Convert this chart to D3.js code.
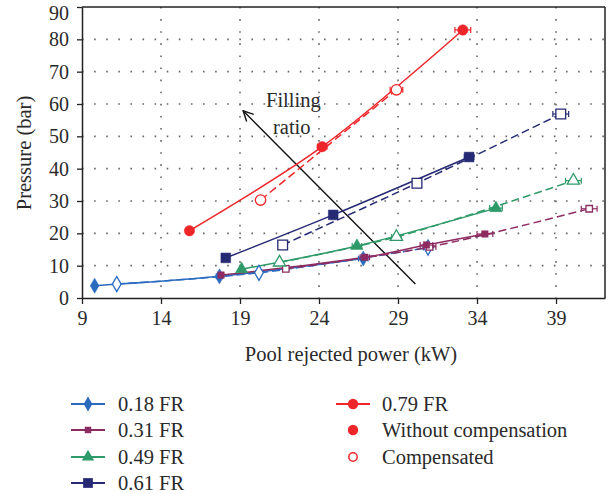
<!DOCTYPE html>
<html>
<head>
<meta charset="utf-8">
<script src="https://cdn.jsdelivr.net/npm/d3@7"></script>
<style>
  body { margin: 0; background: #fff; }
  svg text { font-family: "Liberation Serif", "DejaVu Serif", serif; fill: #2a2a2a; }
</style>
</head>
<body>
<div id="chart"></div>
<script>
// Tick labels
const xTicks = [9, 14, 19, 24, 29, 34, 39];
const yTicks = [0, 10, 20, 30, 40, 50, 60, 70, 80, 90];

// [power kW, pressure bar]; solid = without compensation, open = compensated
const fr018Measured = [[9.8, 3.8], [17.7, 6.7], [26.8, 12.2]];
const fr018Compensated = [[11.2, 4.3], [20.2, 7.8], [30.9, 15.6]];
const fr031Measured = [[17.8, 7.1], [26.9, 12.6], [30.8, 16.4], [34.5, 19.8]];
const fr031Compensated = [[21.9, 9.0], [31.0, 15.8], [41.1, 27.6]];
const fr049Measured = [[19.1, 8.9], [26.4, 16.1], [35.2, 27.8]];
const fr049Compensated = [[21.5, 11.0], [28.9, 18.9], [40.1, 36.3]];
const fr061Measured = [[18.1, 12.4], [24.9, 25.7], [33.5, 43.6]];
const fr061Compensated = [[21.7, 16.4], [30.2, 35.5], [39.3, 56.9]];
const fr079Measured = [[15.8, 20.8], [24.2, 46.8], [33.1, 82.9]];
const fr079Compensated = [[20.3, 30.3], [28.9, 64.4]];

// horizontal error (kW) per point
const fr018MeasuredErr = [0, 0.2, 0.3];
const fr018CompensatedErr = [0, 0, 0.3];
const fr031MeasuredErr = [0, 0.3, 0.4, 0.5];
const fr031CompensatedErr = [0, 0.4, 0.5];
const fr049MeasuredErr = [0, 0.3, 0.4];
const fr049CompensatedErr = [0, 0.3, 0.5];
const fr061MeasuredErr = [0, 0, 0.3];
const fr061CompensatedErr = [0, 0, 0.5];
const fr079MeasuredErr = [0, 0.3, 0.5];
const fr079CompensatedErr = [0, 0.4];

const seriesNames = ['0.18 FR', '0.31 FR', '0.49 FR', '0.61 FR', '0.79 FR'];

const series = [
  { name: seriesNames[0], color: '#2b6bbf', symbol: d3.symbolDiamond, size: 66,
    measured: fr018Measured, comp: fr018Compensated, mErr: fr018MeasuredErr, cErr: fr018CompensatedErr },
  { name: seriesNames[1], color: '#8e2b60', symbol: d3.symbolSquare, size: 42,
    measured: fr031Measured, comp: fr031Compensated, mErr: fr031MeasuredErr, cErr: fr031CompensatedErr },
  { name: seriesNames[2], color: '#2f9a69', symbol: d3.symbolTriangle, size: 66,
    measured: fr049Measured, comp: fr049Compensated, mErr: fr049MeasuredErr, cErr: fr049CompensatedErr },
  { name: seriesNames[3], color: '#252a73', symbol: d3.symbolSquare, size: 95,
    measured: fr061Measured, comp: fr061Compensated, mErr: fr061MeasuredErr, cErr: fr061CompensatedErr },
  { name: seriesNames[4], color: '#ee2529', symbol: d3.symbolCircle, size: 85,
    measured: fr079Measured, comp: fr079Compensated, mErr: fr079MeasuredErr, cErr: fr079CompensatedErr },
];

const W = 611, H = 494;
const margin = { top: 7, right: 6, bottom: 196, left: 82 };
const width = W - margin.left - margin.right;
const height = H - margin.top - margin.bottom;
const fs = '20.5px';

const svg = d3.select('#chart').append('svg')
  .attr('width', W)
  .attr('height', H);

const g = svg.append('g')
  .attr('transform', `translate(${margin.left},${margin.top})`);

const x = d3.scaleLinear().domain([9, 42.1]).range([0, width]);
const y = d3.scaleLinear().domain([0, 90]).range([height, 0]);

// dotted grid
g.append('g')
  .selectAll('line')
  .data(xTicks.slice(1))
  .enter().append('line')
  .attr('x1', d => x(d)).attr('x2', d => x(d))
  .attr('y1', 0).attr('y2', height)
  .attr('stroke', '#666').attr('stroke-width', 1.6)
  .attr('stroke-dasharray', '1.6,10.5');

g.append('g')
  .selectAll('line')
  .data(yTicks.slice(1, -1))
  .enter().append('line')
  .attr('x1', 0).attr('x2', width)
  .attr('y1', d => y(d)).attr('y2', d => y(d))
  .attr('stroke', '#666').attr('stroke-width', 1.6)
  .attr('stroke-dasharray', '1.6,10.5');

// axes
const xAxis = g.append('g')
  .attr('transform', `translate(0,${height})`)
  .call(d3.axisBottom(x).tickValues(xTicks).tickSize(6).tickPadding(7).tickSizeOuter(0));
const yAxis = g.append('g')
  .call(d3.axisLeft(y).tickValues(yTicks).tickSize(5).tickPadding(8).tickSizeOuter(0));

[xAxis, yAxis].forEach(a => {
  a.select('.domain').attr('stroke', '#222').attr('stroke-width', 1.5);
  a.selectAll('.tick line').attr('stroke', '#222').attr('stroke-width', 1.3);
  a.selectAll('.tick text')
    .attr('font-size', '20px')
    .attr('font-family', '"Liberation Serif", serif')
    .attr('fill', '#2a2a2a');
});
// keep the top label inside the picture
yAxis.selectAll('.tick text').filter(d => d === 90).attr('dy', '0.62em');

// frame top/right
g.append('line').attr('x1', 0).attr('x2', width).attr('y1', 0).attr('y2', 0)
  .attr('stroke', '#222').attr('stroke-width', 1.5);
g.append('line').attr('x1', width).attr('x2', width).attr('y1', 0).attr('y2', height)
  .attr('stroke', '#222').attr('stroke-width', 1.5);

// axis titles
svg.append('text')
  .attr('x', 351).attr('y', 361)
  .attr('text-anchor', 'middle')
  .attr('font-size', fs)
  .text('Pool rejected power (kW)');

svg.append('text')
  .attr('transform', 'translate(31,153) rotate(-90)')
  .attr('text-anchor', 'middle')
  .attr('font-size', fs)
  .text('Pressure (bar)');

const line = d3.line()
  .x(d => x(d[0]))
  .y(d => y(d[1]))
  .curve(d3.curveCatmullRom.alpha(0.5));

// arrow "Filling ratio"
const arrowStart = [30.1, 4.3];
const arrowEnd = [19.2, 57.9];
svg.append('defs').append('marker')
  .attr('id', 'arrow')
  .attr('viewBox', '0 0 12 12')
  .attr('refX', 11).attr('refY', 6)
  .attr('markerWidth', 12).attr('markerHeight', 12)
  .attr('markerUnits', 'userSpaceOnUse')
  .attr('orient', 'auto')
  .append('path')
  .attr('d', 'M1,1 L11,6 L1,11')
  .attr('fill', 'none')
  .attr('stroke', '#111')
  .attr('stroke-width', 1.4);

g.append('line')
  .attr('x1', x(arrowStart[0])).attr('y1', y(arrowStart[1]))
  .attr('x2', x(arrowEnd[0])).attr('y2', y(arrowEnd[1]))
  .attr('stroke', '#111').attr('stroke-width', 1.4)
  .attr('marker-end', 'url(#arrow)');

svg.append('text').attr('x', 266).attr('y', 107).attr('font-size', fs).text('Filling');
svg.append('text').attr('x', 273).attr('y', 134).attr('font-size', fs).text('ratio');

// series lines
series.forEach(s => {
  g.append('path')
    .datum(s.comp)
    .attr('d', line)
    .attr('fill', 'none')
    .attr('stroke', s.color)
    .attr('stroke-width', 1.5)
    .attr('stroke-dasharray', '8,4');
  g.append('path')
    .datum(s.measured)
    .attr('d', line)
    .attr('fill', 'none')
    .attr('stroke', s.color)
    .attr('stroke-width', 1.5);
});

// error bars + markers
function drawPoints(s, pts, errs, open) {
  const grp = g.append('g');
  pts.forEach((p, i) => {
    const e = errs[i];
    if (e > 0) {
      const cy = y(p[1]);
      grp.append('line')
        .attr('x1', x(p[0] - e)).attr('x2', x(p[0] + e))
        .attr('y1', cy).attr('y2', cy)
        .attr('stroke', s.color).attr('stroke-width', 1.2);
      [p[0] - e, p[0] + e].forEach(v => {
        grp.append('line')
          .attr('x1', x(v)).attr('x2', x(v))
          .attr('y1', cy - 3).attr('y2', cy + 3)
          .attr('stroke', s.color).attr('stroke-width', 1.2);
      });
    }
  });
  grp.selectAll('path.m')
    .data(pts)
    .enter().append('path')
    .attr('class', 'm')
    .attr('transform', d => `translate(${x(d[0])},${y(d[1])})`)
    .attr('d', d3.symbol().type(s.symbol).size(s.size))
    .attr('fill', open ? '#fff' : s.color)
    .attr('stroke', s.color)
    .attr('stroke-width', open ? 1.3 : 0.5);
}

series.forEach(s => {
  drawPoints(s, s.comp, s.cErr, true);
  drawPoints(s, s.measured, s.mErr, false);
});

// legend
const legend = svg.append('g');
const rowY = [404, 430, 457, 483];
series.slice(0, 4).forEach((s, i) => {
  const row = legend.append('g').attr('transform', `translate(0,${rowY[i]})`);
  row.append('line').attr('x1', 71).attr('x2', 105).attr('y1', 0).attr('y2', 0)
    .attr('stroke', s.color).attr('stroke-width', 1.8);
  row.append('path')
    .attr('transform', 'translate(88,0)')
    .attr('d', d3.symbol().type(s.symbol).size(s.size))
    .attr('fill', s.color);
  row.append('text').attr('x', 118).attr('y', 7).attr('font-size', fs).text(s.name);
});

const red = series[4];
const r0 = legend.append('g').attr('transform', `translate(0,${rowY[0]})`);
r0.append('line').attr('x1', 336).attr('x2', 370).attr('y1', 0).attr('y2', 0)
  .attr('stroke', red.color).attr('stroke-width', 1.8);
r0.append('path').attr('transform', 'translate(353,0)')
  .attr('d', d3.symbol().type(d3.symbolCircle).size(red.size)).attr('fill', red.color);
r0.append('text').attr('x', 382).attr('y', 7).attr('font-size', fs).text(red.name);

const r1 = legend.append('g').attr('transform', `translate(0,${rowY[1]})`);
r1.append('path').attr('transform', 'translate(353,0)')
  .attr('d', d3.symbol().type(d3.symbolCircle).size(red.size)).attr('fill', red.color);
r1.append('text').attr('x', 382).attr('y', 7).attr('font-size', fs).text('Without compensation');

const r2 = legend.append('g').attr('transform', `translate(0,${rowY[2]})`);
r2.append('path').attr('transform', 'translate(353,0)')
  .attr('d', d3.symbol().type(d3.symbolCircle).size(55))
  .attr('fill', '#fff').attr('stroke', red.color).attr('stroke-width', 1.5);
r2.append('text').attr('x', 382).attr('y', 7).attr('font-size', fs).text('Compensated');
</script>
</body>
</html>
